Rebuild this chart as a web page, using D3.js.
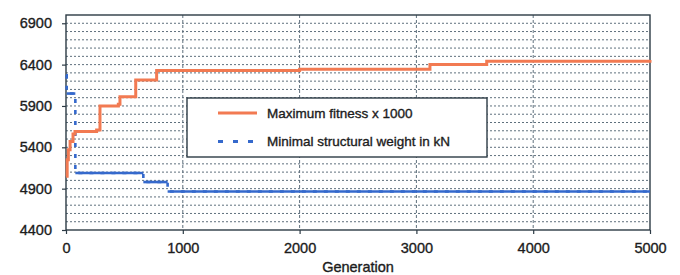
<!DOCTYPE html>
<html>
<head>
<meta charset="utf-8">
<script src="https://cdn.jsdelivr.net/npm/d3@7"></script>
<style>
  body { margin: 0; background: #fff; }
  text { font-family: "Liberation Sans", Arial, sans-serif; fill: #1c1c1c; stroke: #1c1c1c; stroke-width: 0.35px; }
</style>
</head>
<body>
<div id="chart"></div>
<script>
// data
const fitnessGen = [0, 10, 20, 35, 60, 77, 262, 291, 448, 462, 597, 776, 2000, 3116, 3602, 5000];
const fitnessVal = [5050, 5250, 5370, 5470, 5560, 5590, 5610, 5900, 5920, 6010, 6215, 6330, 6345, 6400, 6440, 6455];
const weightGen = [0, 6, 80, 662, 870, 5000];
const weightVal = [6270, 6050, 5090, 4980, 4865, 4865];
const xTicks = [0, 1000, 2000, 3000, 4000, 5000];
const yTicks = [4400, 4900, 5400, 5900, 6400, 6900];
const gridLines = d3.range(4500, 7000, 100);
const legendLabels = ["Maximum fitness x 1000", "Minimal structural weight in kN"];

const margin = { top: 15, right: 30, bottom: 45, left: 66 },
    width = 680 - margin.left - margin.right,
    height = 275 - margin.top - margin.bottom;

const orange = "#f27a52", blue = "#3569cc", axisCol = "#2d3b45", gridCol = "#5f707d";

const svg = d3.select("#chart").append("svg")
    .attr("width", 680).attr("height", 275)
    .append("g")
    .attr("transform", `translate(${margin.left},${margin.top})`);

const x = d3.scaleLinear().domain([0, 5000]).range([0, width]);
const y = d3.scaleLinear().domain([4400, 7000]).range([height, 0]);

// grid
svg.append("g").selectAll("line.h").data(gridLines).enter().append("line")
    .attr("x1", 0).attr("x2", width)
    .attr("y1", d => y(d)).attr("y2", d => y(d))
    .attr("stroke", gridCol).attr("stroke-width", 1).attr("stroke-dasharray", "2,2");

svg.append("g").selectAll("line.v").data(xTicks.slice(1, -1)).enter().append("line")
    .attr("x1", d => x(d)).attr("x2", d => x(d))
    .attr("y1", 0).attr("y2", height)
    .attr("stroke", gridCol).attr("stroke-width", 1).attr("stroke-dasharray", "3,2");

// axes
const yAxis = svg.append("g")
    .call(d3.axisLeft(y).tickValues(yTicks).tickSize(4).tickPadding(10).tickFormat(d3.format("d")));
const xAxis = svg.append("g")
    .attr("transform", `translate(0,${height})`)
    .call(d3.axisBottom(x).tickValues(xTicks).tickSize(4).tickPadding(9).tickFormat(d3.format("d")));
[xAxis, yAxis].forEach(a => {
    a.select(".domain").remove();
    a.selectAll("line").attr("stroke", axisCol).attr("stroke-width", 1.2);
    a.selectAll("text").attr("font-size", "14.5px").attr("fill", "#1c1c1c");
});

// plot frame
svg.append("rect")
    .attr("x", 0).attr("y", 0).attr("width", width).attr("height", height)
    .attr("fill", "none").attr("stroke", axisCol).attr("stroke-width", 1.4);

svg.append("text")
    .attr("x", width / 2).attr("y", height + 42)
    .attr("text-anchor", "middle").attr("font-size", "14.5px")
    .text("Generation");

// series
const fitness = fitnessGen.map((g, i) => ({ g: g, v: fitnessVal[i] }));
const weight = weightGen.map((g, i) => ({ g: g, v: weightVal[i] }));

const line = d3.line().x(d => x(d.g)).y(d => y(d.v)).curve(d3.curveStepAfter);

svg.append("path").datum(weight)
    .attr("d", line).attr("fill", "none")
    .attr("stroke", blue).attr("stroke-width", 2.6).attr("stroke-dasharray", "4,7");

// horizontal runs of the weight line look solid
svg.append("g").selectAll("line").data(weight.slice(0, -1)).enter().append("line")
    .attr("x1", d => x(d.g))
    .attr("x2", (d, i) => x(weight[i + 1].g))
    .attr("y1", d => y(d.v)).attr("y2", d => y(d.v))
    .attr("stroke", blue).attr("stroke-width", 2.6);

svg.append("path").datum(fitness)
    .attr("d", line).attr("fill", "none")
    .attr("stroke", orange).attr("stroke-width", 3);

// legend
const legend = svg.append("g").attr("transform", "translate(121,83)");
legend.append("rect")
    .attr("width", 300).attr("height", 59)
    .attr("fill", "#fff").attr("stroke", axisCol).attr("stroke-width", 1.4);
const items = legend.selectAll("g.item").data(legendLabels).enter().append("g")
    .attr("transform", (d, i) => `translate(0,${15 + i * 28.5})`);
items.append("line")
    .attr("x1", 31).attr("x2", (d, i) => i ? 66 : 70)
    .attr("stroke", (d, i) => i ? blue : orange)
    .attr("stroke-width", 3)
    .attr("stroke-dasharray", (d, i) => i ? "5,10" : null);
items.append("text")
    .attr("x", 80).attr("dy", "0.36em")
    .attr("font-size", "13.5px")
    .text(d => d);
</script>
</body>
</html>
